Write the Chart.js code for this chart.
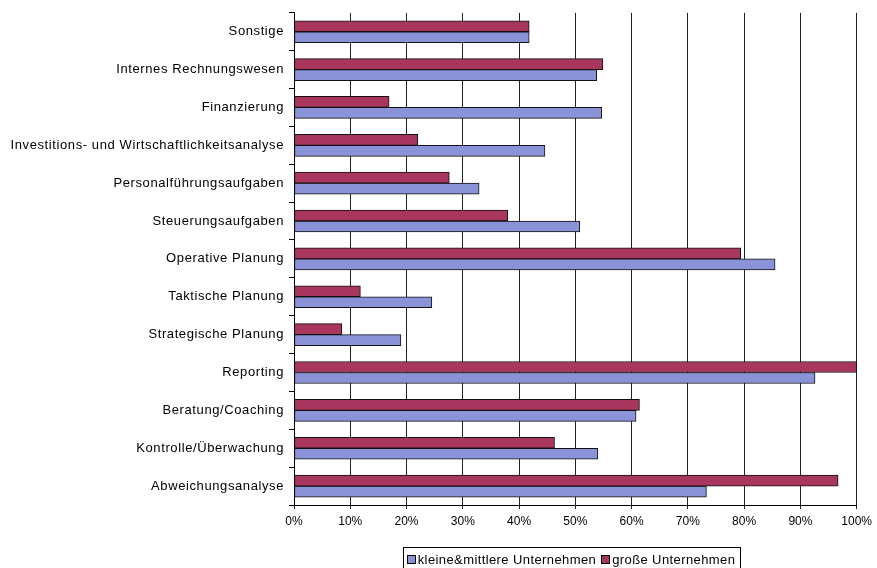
<!DOCTYPE html>
<html>
<head>
<meta charset="utf-8">
<script src="https://cdn.jsdelivr.net/npm/chart.js@4.4.1/dist/chart.umd.min.js"></script>
<style>
  html, body { margin: 0; padding: 0; background: #fff; }
  canvas { display: block; }
</style>
</head>
<body>
<canvas id="chart" width="877" height="568"></canvas>
<script>
// categories from bottom to top (y axis is reversed, like Excel)
const categories = [
    'Abweichungsanalyse',
    'Kontrolle/Überwachung',
    'Beratung/Coaching',
    'Reporting',
    'Strategische Planung',
    'Taktische Planung',
    'Operative Planung',
    'Steuerungsaufgaben',
    'Personalführungsaufgaben',
    'Investitions- und Wirtschaftlichkeitsanalyse',
    'Finanzierung',
    'Internes Rechnungswesen',
    'Sonstige'
];
const seriesNames = ['kleine&mittlere Unternehmen', 'große Unternehmen'];
const kmuValues = [73.3, 54.0, 60.8, 92.6, 19.0, 24.5, 85.5, 50.8, 32.9, 44.6, 54.7, 53.8, 41.8];
const grossValues = [96.7, 46.3, 61.4, 100, 8.5, 11.8, 79.4, 38.0, 27.6, 22.0, 16.9, 54.9, 41.8];
const xTicks = [0, 10, 20, 30, 40, 50, 60, 70, 80, 90, 100];

const blue = '#8A93D8';
const red = '#A8365E';
const fontFamily = '"Liberation Sans", Arial, sans-serif';

// wider letter spacing on the category labels (Excel look)
const spacedLabels = {
    id: 'spacedLabels',
    afterUpdate: function (chart) {
        const s = chart.scales.y;
        if (!s || s._spaced) return;
        const orig = s.drawLabels;
        s.drawLabels = function (area) {
            const ctx = this.ctx;
            ctx.save();
            ctx.letterSpacing = '0.6px';
            orig.call(this, area);
            ctx.restore();
        };
        s._spaced = true;
    }
};

// legend with a frame, drawn under the plot
const boxLegend = {
    id: 'boxLegend',
    afterDraw: function (chart) {
        const ctx = chart.ctx;
        ctx.save();
        ctx.font = '13px ' + fontFamily;
        ctx.letterSpacing = '0.4px';
        ctx.textBaseline = 'middle';
        const sq = 8, gap = 3, sep = 5, pad = 4;
        // legend lists the small/medium series first
        const items = chart.data.datasets.slice().reverse().map(function (ds) {
            return { text: ds.label, color: ds.backgroundColor, w: ctx.measureText(ds.label).width };
        });
        let total = pad * 2;
        items.forEach(function (it, i) { total += sq + gap + it.w + (i ? sep : 0); });
        const left = 571 - total / 2, top = 547, cy = 559;
        ctx.strokeStyle = '#000';
        ctx.lineWidth = 1;
        ctx.strokeRect(Math.round(left) + 0.5, top + 0.5, Math.round(total), 24);
        let x = left + pad;
        items.forEach(function (it, i) {
            if (i) x += sep;
            ctx.fillStyle = it.color;
            ctx.fillRect(Math.round(x) + 0.5, cy - 4 + 0.5, sq, sq);
            ctx.strokeStyle = '#000';
            ctx.strokeRect(Math.round(x) + 0.5, cy - 4 + 0.5, sq, sq);
            x += sq + gap;
            ctx.fillStyle = '#000';
            ctx.fillText(it.text, x, cy + 1);
            x += it.w;
        });
        ctx.restore();
    }
};

new Chart(document.getElementById('chart'), {
    type: 'bar',
    data: {
        labels: categories,
        datasets: [{
            label: seriesNames[1],
            data: grossValues,
            backgroundColor: red,
            borderColor: '#111',
            borderWidth: 1,
            borderSkipped: false
        }, {
            label: seriesNames[0],
            data: kmuValues,
            backgroundColor: blue,
            borderColor: '#111',
            borderWidth: 1,
            borderSkipped: false
        }]
    },
    options: {
        indexAxis: 'y',
        responsive: false,
        animation: false,
        devicePixelRatio: 1,
        barThickness: 11,
        layout: { padding: { top: 11, right: 19, bottom: 0, left: 0 } },
        plugins: {
            legend: { display: false },
            tooltip: { enabled: false }
        },
        scales: {
            x: {
                min: 0,
                max: 100,
                afterBuildTicks: function (scale) {
                    scale.ticks = xTicks.map(function (v) { return { value: v }; });
                },
                afterFit: function (scale) { scale.height = 63; },
                grid: { color: '#222', lineWidth: 1, tickLength: 4, offset: false },
                border: { color: '#000' },
                ticks: {
                    color: '#000',
                    padding: 5,
                    font: { family: fontFamily, size: 12 },
                    callback: function (v) { return v + '%'; }
                }
            },
            y: {
                reverse: true,
                afterFit: function (scale) { scale.width = 294; },
                grid: { drawOnChartArea: false, drawTicks: true, tickLength: 5, color: '#000' },
                border: { color: '#000' },
                ticks: {
                    color: '#000',
                    padding: 5,
                    font: { family: fontFamily, size: 13 }
                }
            }
        }
    },
    plugins: [spacedLabels, boxLegend]
});
</script>
</body>
</html>
